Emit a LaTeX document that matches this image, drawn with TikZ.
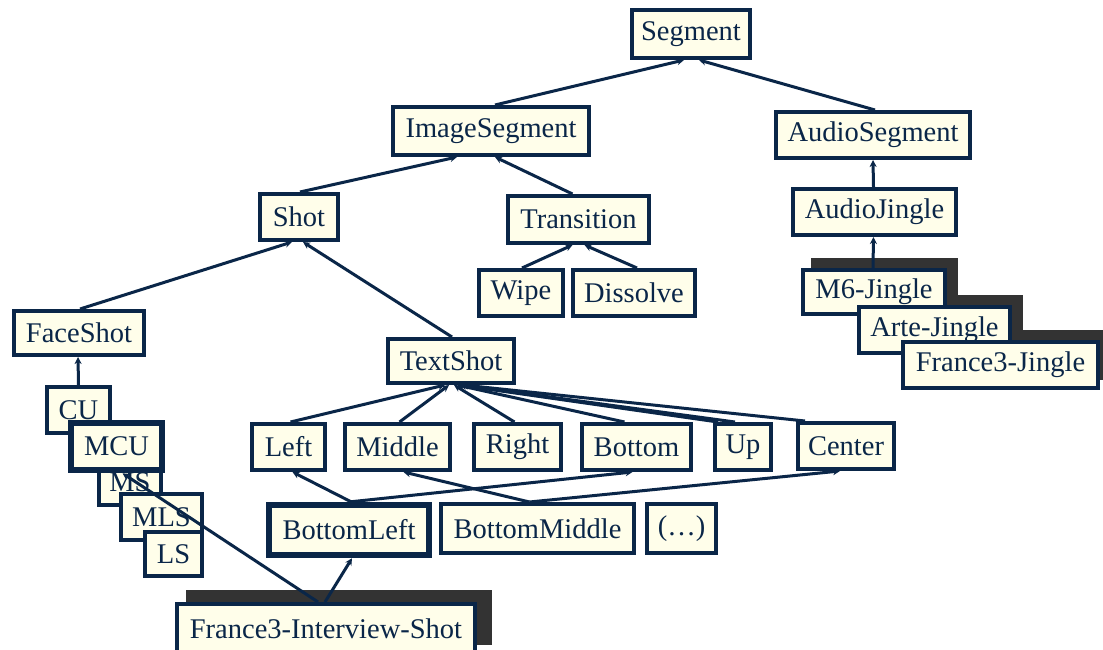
\documentclass[tikz,border=0pt]{standalone}
\usepackage{fontspec}
\setmainfont{Liberation Serif}
\usetikzlibrary{arrows.meta}
\definecolor{navy}{HTML}{0A2648}
\definecolor{cream}{HTML}{FFFEEA}
\definecolor{shadowc}{HTML}{333333}
\newcommand\boxfont{\fontsize{28.5}{31}\selectfont}
\begin{document}
\begin{tikzpicture}[x=1pt,y=-1pt,
  box/.style={draw=navy, line width=4pt, fill=cream, text=navy, inner sep=0pt, font=\boxfont},
  thickbox/.style={box, line width=6.5pt},
  edge/.style={draw=navy, line width=3pt, -{Stealth[length=7pt,width=7pt]}},
  shadowbox/.style={fill=shadowc}]
\useasboundingbox (0,0) rectangle (1103,650);
\fill[white] (0,0) rectangle (1103,650);

% shadows
\fill[shadowc] (811,258) rectangle (958,308);
\fill[shadowc] (867,295) rectangle (1023,345);
\fill[shadowc] (911,330) rectangle (1112,380);
\fill[shadowc] (186,590) rectangle (492,645);

% top level
\node[box, minimum width=118, minimum height=48] (Segment) at (691,34) {Segment};
\node[box, minimum width=196, minimum height=48] (ImageSegment) at (491,131) {ImageSegment};
\node[box, minimum width=194, minimum height=46] (AudioSegment) at (873,135) {AudioSegment};
\node[box, minimum width=78, minimum height=46] (Shot) at (299,217) {Shot};
\node[box, minimum width=141, minimum height=47] (Transition) at (578.5,219.5) {Transition};
\node[box, minimum width=163, minimum height=46] (AudioJingle) at (874.5,212) {AudioJingle};
\node[box, minimum width=84, minimum height=46] (Wipe) at (521,293) {Wipe};
\node[box, minimum width=122, minimum height=46] (Dissolve) at (634,293) {Dissolve};
\node[box, minimum width=142, minimum height=44] (M6) at (874,292) {M6-Jingle};
\node[box, minimum width=151, minimum height=46] (Arte) at (934.5,330) {Arte-Jingle};
\node[box, minimum width=195, minimum height=46] (France3J) at (1000.5,365) {France3-Jingle};

% shot level
\node[box, minimum width=130, minimum height=44] (FaceShot) at (79,333) {FaceShot};
\node[box, minimum width=126, minimum height=44] (TextShot) at (451,361) {TextShot};
\node[box, minimum width=63, minimum height=46] (CU) at (78.5,410) {CU};
\node[box, minimum width=62, minimum height=46] (MS) at (130,482) {MS};
\node[thickbox, minimum width=91, minimum height=47] (MCU) at (116.5,446.5) {MCU};
\node[box, minimum width=81, minimum height=46] (MLS) at (161.5,517) {MLS};
\node[box, minimum width=57, minimum height=44] (LS) at (173.5,554) {LS};

% text positions
\node[box, minimum width=73, minimum height=46] (Left) at (288.5,447) {Left};
\node[box, minimum width=105, minimum height=46] (Middle) at (397.5,447) {Middle};
\node[box, minimum width=87, minimum height=46] (Right) at (517.5,447) {Right};
\node[box, minimum width=109, minimum height=46] (Bottom) at (636.5,447) {Bottom};
\node[box, minimum width=56, minimum height=46] (Up) at (743,447) {Up};
\node[box, minimum width=96, minimum height=46] (Center) at (846,446) {Center};
\node[thickbox, minimum width=160, minimum height=50] (BottomLeft) at (349,530) {BottomLeft};
\node[box, minimum width=193, minimum height=49] (BottomMiddle) at (537.5,528.5) {BottomMiddle};
\node[box, minimum width=69, minimum height=49] (More) at (681.5,528.5) {(\dots)};
\node[box, minimum width=298, minimum height=50] (Interview) at (326,629) {France3-Interview-Shot};

% connectors
\draw[edge] ([xshift=4]ImageSegment.north) -- ([xshift=-7]Segment.south);
\draw[edge] ([xshift=2]AudioSegment.north) -- ([xshift=8]Segment.south);
\draw[edge] ([xshift=1]Shot.north) -- ([xshift=-34]ImageSegment.south);
\draw[edge] ([xshift=-6]Transition.north) -- ([xshift=4]ImageSegment.south);
\draw[edge] ([xshift=1]Wipe.north) -- ([xshift=-6]Transition.south);
\draw[edge] ([xshift=3]Dissolve.north) -- ([xshift=6]Transition.south);
\draw[edge] ([xshift=-1]AudioJingle.north) -- (AudioSegment.south);
\draw[edge] ([xshift=-1]M6.north) -- ([xshift=-1]AudioJingle.south);
\draw[edge] ([xshift=1]FaceShot.north) -- ([xshift=-7]Shot.south);
\draw[edge] ([xshift=1]TextShot.north) -- ([xshift=4]Shot.south);
\draw[edge] (CU.north) -- ([xshift=-1]FaceShot.south);
\draw[edge] ([xshift=2]Left.north) -- ([xshift=-6]TextShot.south);
\draw[edge] ([xshift=2]Middle.north) -- ([xshift=-2]TextShot.south);
\draw[edge] ([xshift=-3]Right.north) -- ([xshift=3]TextShot.south);
\draw[edge] ([xshift=-12]Bottom.north) -- ([xshift=6]TextShot.south);
\draw[edge] ([xshift=-25]Up.north) -- ([xshift=8]TextShot.south);
\draw[edge] ([xshift=-8]Up.north) -- ([xshift=10]TextShot.south);
\draw[edge] ([xshift=-41]Center.north) -- ([xshift=12]TextShot.south);
\draw[edge] ([xshift=2]BottomLeft.north) -- ([xshift=4]Left.south);
\draw[edge] ([xshift=2]BottomLeft.north) -- ([xshift=-4]Bottom.south);
\draw[edge] ([xshift=-8]BottomMiddle.north) -- ([xshift=6]Middle.south);
\draw[edge] ([xshift=-8]BottomMiddle.north) -- ([xshift=-6]Center.south);
\draw[edge] ([xshift=-1]Interview.north) -- ([xshift=3]BottomLeft.south);
\draw[edge] ([xshift=-8]Interview.north) -- ([xshift=6]MCU.south);
\end{tikzpicture}
\end{document}
